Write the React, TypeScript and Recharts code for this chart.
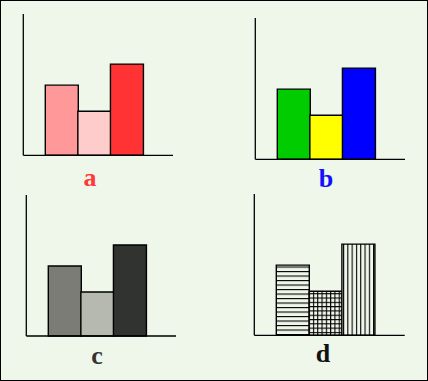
import { BarChart, Bar, XAxis, YAxis, Cell } from 'recharts';

const categories = ['first', 'second', 'third'];
const heights = [70, 44, 91];
const redFills = ['#ff9999', '#ffcccc', '#ff3333'];
const brightFills = ['#00cc00', '#ffff00', '#0000ff'];
const greyFills = ['#7a7c75', '#b5b9b0', '#303330'];
const patternFills = ['url(#hatchH)', 'url(#hatchGrid)', 'url(#hatchV)'];
const panelLabels = ['a', 'b', 'c', 'd'];
const labelColors = ['#ff3838', '#1010ff', '#333333', '#111111'];

const BG = '#eff7eb';

const data = categories.map((name, i) => ({ name, value: heights[i] }));

interface PanelProps {
  left: number;
  top: number;
  margin: { top: number; right: number; bottom: number; left: number };
  fills: string[];
  label: string;
  labelColor: string;
  labelX: number;
  labelTop: number;
}

function Panel({ left, top, margin, fills, label, labelColor, labelX, labelTop }: PanelProps) {
  // axes take 1px each, so trim the margins by that
  const m = { ...margin, left: margin.left - 1, bottom: margin.bottom - 1 };
  return (
    <>
      <div style={{ position: 'absolute', left, top, width: 214, height: 190 }}>
        <BarChart width={214} height={190} data={data} margin={m} barCategoryGap={0} barGap={0}>
          <XAxis
            dataKey="name"
            tick={false}
            tickLine={false}
            height={1}
            padding={{ left: 22, right: 30 }}
            axisLine={{ stroke: '#000', strokeWidth: 1.3 }}
          />
          <YAxis
            domain={[0, 141]}
            tick={false}
            tickLine={false}
            width={1}
            axisLine={{ stroke: '#000', strokeWidth: 1.3 }}
          />
          <Bar dataKey="value" stroke="#000" strokeWidth={1.4} isAnimationActive={false}>
            {data.map((d, i) => (
              <Cell key={d.name} fill={fills[i]} />
            ))}
          </Bar>
        </BarChart>
      </div>
      <div
        style={{
          position: 'absolute',
          left: labelX - 20,
          top: labelTop,
          width: 40,
          textAlign: 'center',
          fontFamily: '"Liberation Serif", serif',
          fontWeight: 'bold',
          fontSize: 26,
          lineHeight: '26px',
          color: labelColor,
        }}
      >
        {label}
      </div>
    </>
  );
}

export default function App() {
  return (
    <div
      style={{
        position: 'absolute',
        left: 0,
        top: 0,
        width: 428,
        height: 381,
        boxSizing: 'border-box',
        border: '1px solid #000',
        background: BG,
      }}
    >
      <svg width={0} height={0} style={{ position: 'absolute' }}>
        <defs>
          <pattern id="hatchH" patternUnits="userSpaceOnUse" width={4.5} height={4.5}>
            <rect width={4.5} height={4.5} fill={BG} />
            <line x1={0} y1={0.5} x2={4.5} y2={0.5} stroke="#000" strokeWidth={1.2} />
          </pattern>
          <pattern id="hatchV" patternUnits="userSpaceOnUse" width={4.3} height={4.3}>
            <rect width={4.3} height={4.3} fill={BG} />
            <line x1={0.5} y1={0} x2={0.5} y2={4.3} stroke="#000" strokeWidth={1.2} />
          </pattern>
          <pattern id="hatchGrid" patternUnits="userSpaceOnUse" width={4.3} height={4.3}>
            <rect width={4.3} height={4.3} fill={BG} />
            <line x1={0} y1={0.5} x2={4.3} y2={0.5} stroke="#000" strokeWidth={1.2} />
            <line x1={0.5} y1={0} x2={0.5} y2={4.3} stroke="#000" strokeWidth={1.2} />
          </pattern>
        </defs>
      </svg>
      <Panel
        left={-1}
        top={-1}
        margin={{ top: 14, right: 41, bottom: 34.7, left: 23.3 }}
        fills={redFills}
        label={panelLabels[0]}
        labelColor={labelColors[0]}
        labelX={89}
        labelTop={164}
      />
      <Panel
        left={213}
        top={-1}
        margin={{ top: 18, right: 23, bottom: 30.7, left: 41.3 }}
        fills={brightFills}
        label={panelLabels[1]}
        labelColor={labelColors[1]}
        labelX={325}
        labelTop={165}
      />
      <Panel
        left={-1}
        top={189}
        margin={{ top: 5, right: 38, bottom: 44, left: 26.3 }}
        fills={greyFills}
        label={panelLabels[2]}
        labelColor={labelColors[2]}
        labelX={96}
        labelTop={342}
      />
      <Panel
        left={213}
        top={189}
        margin={{ top: 4, right: 23.3, bottom: 44.7, left: 40.3 }}
        fills={patternFills}
        label={panelLabels[3]}
        labelColor={labelColors[3]}
        labelX={322}
        labelTop={340}
      />
    </div>
  );
}
